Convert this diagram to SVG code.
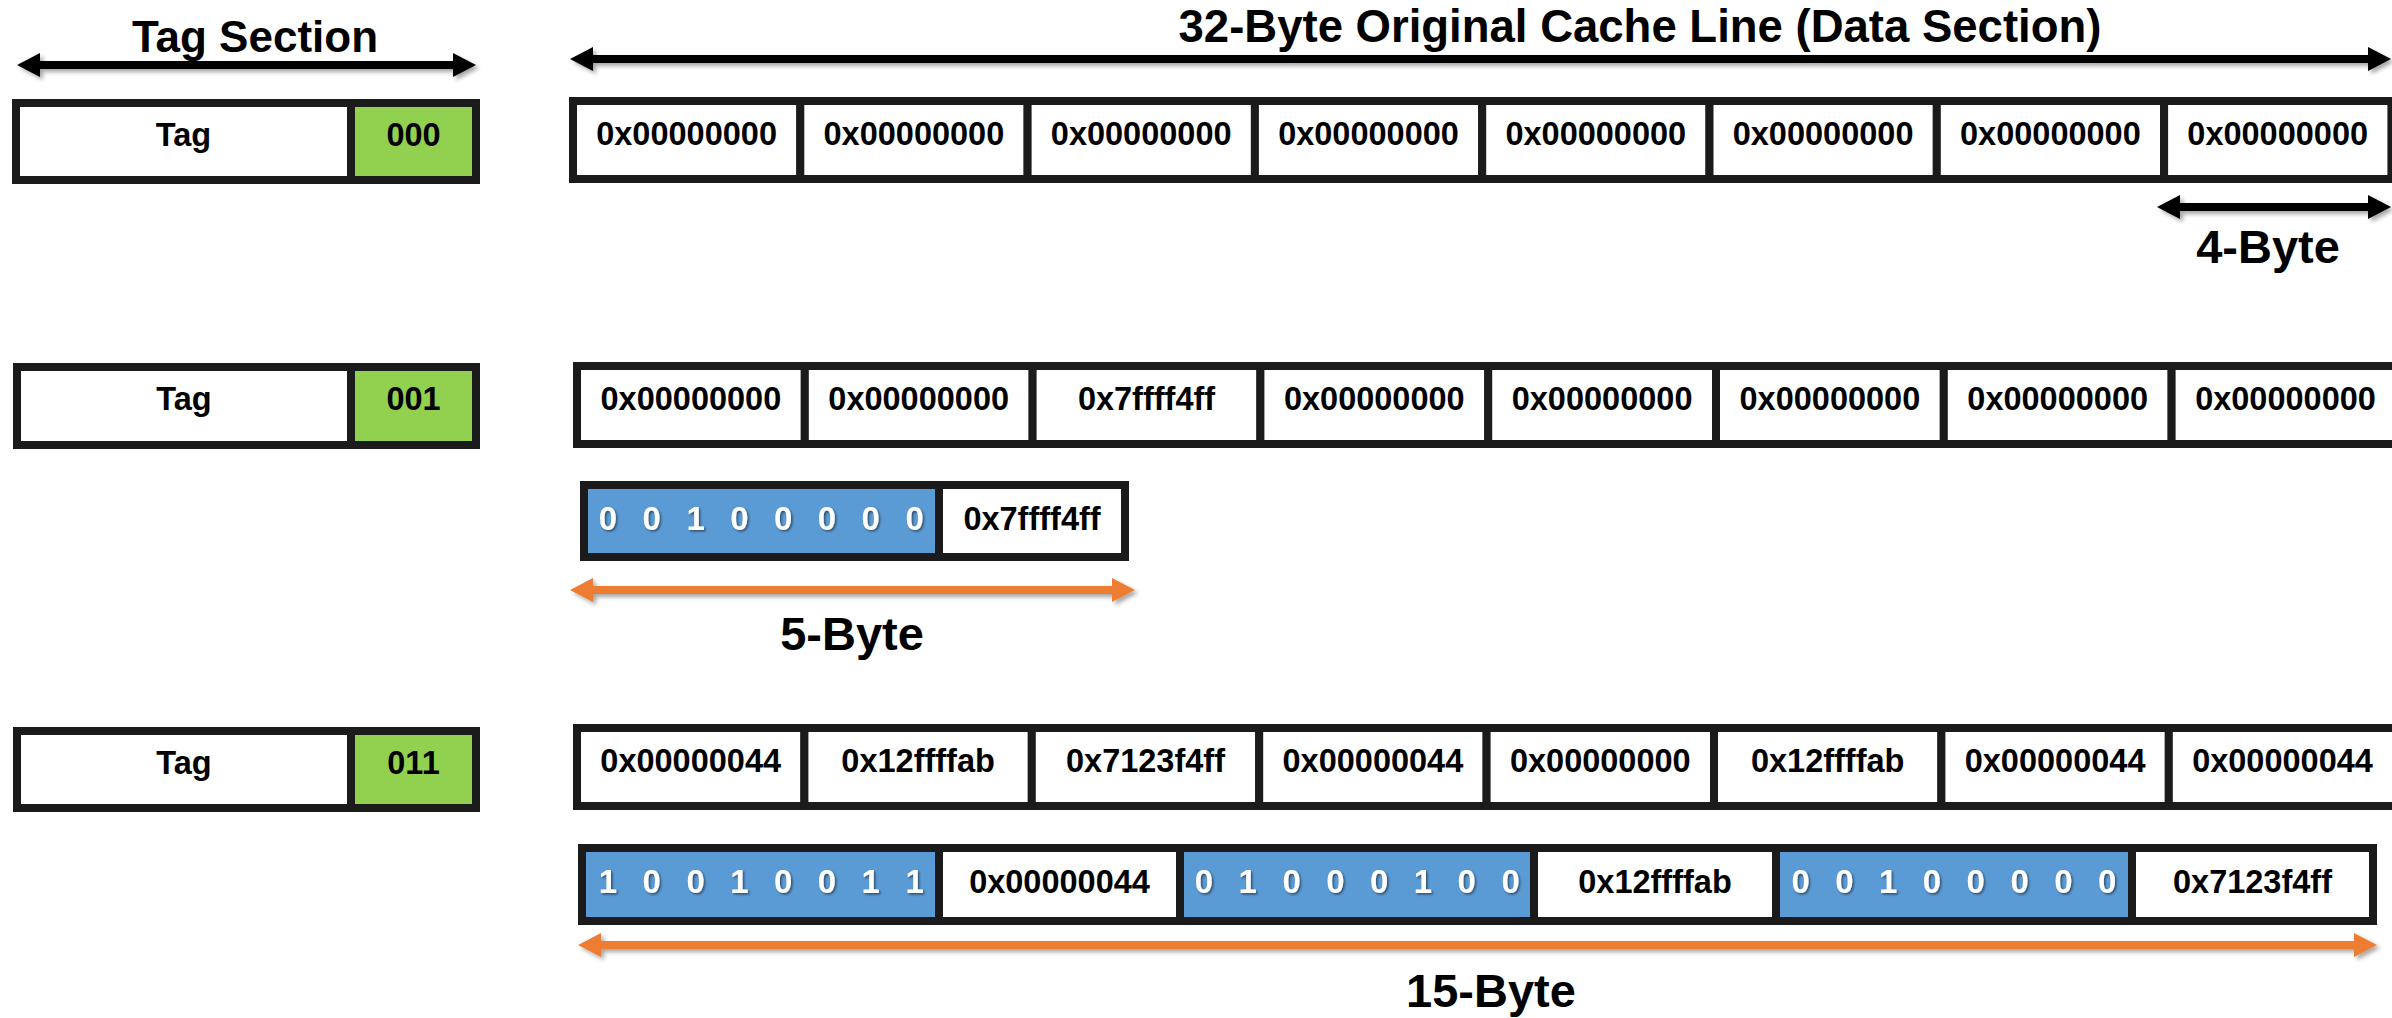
<svg xmlns="http://www.w3.org/2000/svg" width="2392" height="1018" viewBox="0 0 2392 1018">
<defs>
<style>
.box{stroke:#1b1b1b;stroke-width:8;}
.w{fill:#ffffff;}
.g{fill:#92D050;}
.b{fill:#5B9BD5;}
.t{font-family:"Liberation Sans",Arial,sans-serif;font-weight:bold;font-size:32.5px;fill:#000;text-anchor:middle;}
.bin{font-family:"Liberation Sans",Arial,sans-serif;font-weight:bold;font-size:33px;fill:#ffffff;text-anchor:middle;filter:url(#ts);}
.lbl{font-family:"Liberation Sans",Arial,sans-serif;font-weight:bold;font-size:47px;fill:#000;text-anchor:middle;}
.ab{stroke:#000;stroke-width:8;fill:none;filter:url(#ds);}
.ao{stroke:#ED7D31;stroke-width:8;fill:none;filter:url(#ds);}
</style>
<filter id="ds" filterUnits="userSpaceOnUse" x="0" y="0" width="2392" height="1018">
<feDropShadow dx="3" dy="3" stdDeviation="2" flood-color="#000" flood-opacity="0.35"/>
</filter>
<filter id="ts" x="-50%" y="-50%" width="200%" height="200%">
<feDropShadow dx="1.5" dy="1.5" stdDeviation="1" flood-color="#000" flood-opacity="0.5"/>
</filter>
<marker id="hb" markerUnits="userSpaceOnUse" markerWidth="26" markerHeight="26" viewBox="0 0 26 26" refX="3" refY="13" orient="auto-start-reverse">
<path d="M0,1 L23,13 L0,25 Z" fill="#000"/>
</marker>
<marker id="ho" markerUnits="userSpaceOnUse" markerWidth="26" markerHeight="26" viewBox="0 0 26 26" refX="3" refY="13" orient="auto-start-reverse">
<path d="M0,1 L23,13 L0,25 Z" fill="#ED7D31"/>
</marker>
</defs>
<rect width="2392" height="1018" fill="#ffffff"/>

<g id="labels">
<text class="lbl" x="255" y="52" style="font-size:44px">Tag Section</text>
<text class="lbl" x="1640" y="42" style="font-size:45.5px">32-Byte Original Cache Line (Data Section)</text>
<text class="lbl" x="2268" y="263">4-Byte</text>
<text class="lbl" x="852" y="650">5-Byte</text>
<text class="lbl" x="1491" y="1007">15-Byte</text>
</g>

<g id="connectors">
<line class="ab" x1="37" y1="65" x2="456" y2="65" marker-start="url(#hb)" marker-end="url(#hb)"/>
<line class="ab" x1="590" y1="59" x2="2371" y2="59" marker-start="url(#hb)" marker-end="url(#hb)"/>
<line class="ab" x1="2177" y1="207" x2="2371" y2="207" marker-start="url(#hb)" marker-end="url(#hb)"/>
<line class="ao" x1="590" y1="590" x2="1115" y2="590" marker-start="url(#ho)" marker-end="url(#ho)"/>
<line class="ao" x1="598" y1="945" x2="2357" y2="945" marker-start="url(#ho)" marker-end="url(#ho)"/>
</g>

<g id="tag-row1">
<rect class="box w" x="16" y="103" width="460" height="77"/>
<rect class="box g" x="351" y="103" width="125" height="77"/>
<text class="t" x="183.5" y="146">Tag</text>
<text class="t" x="413.5" y="146">000</text>
</g>
<g id="tag-row2">
<rect class="box w" x="17" y="367" width="459" height="78"/>
<rect class="box g" x="351" y="367" width="125" height="78"/>
<text class="t" x="184" y="410">Tag</text>
<text class="t" x="413.5" y="410">001</text>
</g>
<g id="tag-row3">
<rect class="box w" x="17" y="731" width="459" height="77"/>
<rect class="box g" x="351" y="731" width="125" height="77"/>
<text class="t" x="184" y="774">Tag</text>
<text class="t" x="413.5" y="774">011</text>
</g>

<g id="data-row1">
<rect class="box w" x="573" y="101" width="227.3" height="78"/>
<rect class="box w" x="800.3" y="101" width="227.3" height="78"/>
<rect class="box w" x="1027.6" y="101" width="227.3" height="78"/>
<rect class="box w" x="1254.9" y="101" width="227.3" height="78"/>
<rect class="box w" x="1482.2" y="101" width="227.3" height="78"/>
<rect class="box w" x="1709.5" y="101" width="227.3" height="78"/>
<rect class="box w" x="1936.8" y="101" width="227.3" height="78"/>
<rect class="box w" x="2164.1" y="101" width="227.3" height="78"/>
<text class="t" x="686.6" y="145">0x00000000</text>
<text class="t" x="913.9" y="145">0x00000000</text>
<text class="t" x="1141.2" y="145">0x00000000</text>
<text class="t" x="1368.5" y="145">0x00000000</text>
<text class="t" x="1595.8" y="145">0x00000000</text>
<text class="t" x="1823.1" y="145">0x00000000</text>
<text class="t" x="2050.4" y="145">0x00000000</text>
<text class="t" x="2277.7" y="145">0x00000000</text>
</g>

<g id="data-row2">
<rect class="box w" x="577" y="366" width="227.8" height="78"/>
<rect class="box w" x="804.8" y="366" width="227.8" height="78"/>
<rect class="box w" x="1032.6" y="366" width="227.8" height="78"/>
<rect class="box w" x="1260.4" y="366" width="227.8" height="78"/>
<rect class="box w" x="1488.2" y="366" width="227.8" height="78"/>
<rect class="box w" x="1716" y="366" width="227.8" height="78"/>
<rect class="box w" x="1943.8" y="366" width="227.8" height="78"/>
<rect class="box w" x="2171.6" y="366" width="227.8" height="78"/>
<text class="t" x="690.9" y="410">0x00000000</text>
<text class="t" x="918.7" y="410">0x00000000</text>
<text class="t" x="1146.5" y="410">0x7ffff4ff</text>
<text class="t" x="1374.3" y="410">0x00000000</text>
<text class="t" x="1602.1" y="410">0x00000000</text>
<text class="t" x="1829.9" y="410">0x00000000</text>
<text class="t" x="2057.7" y="410">0x00000000</text>
<text class="t" x="2285.5" y="410">0x00000000</text>
</g>

<g id="compressed-row2">
<rect class="box b" x="584" y="485" width="355" height="72"/>
<rect class="box w" x="939" y="485" width="186" height="72"/>
<text class="bin" x="608 629.9 651.8 673.7 695.6 717.5 739.4 761.3 783.2 805.1 827 848.9 870.8 892.7 914.6" y="530">0 0 1 0 0 0 0 0</text>
<text class="t" x="1032" y="530">0x7ffff4ff</text>
</g>

<g id="data-row3">
<rect class="box w" x="577" y="728" width="227.4" height="78"/>
<rect class="box w" x="804.4" y="728" width="227.4" height="78"/>
<rect class="box w" x="1031.8" y="728" width="227.4" height="78"/>
<rect class="box w" x="1259.2" y="728" width="227.4" height="78"/>
<rect class="box w" x="1486.6" y="728" width="227.4" height="78"/>
<rect class="box w" x="1714" y="728" width="227.4" height="78"/>
<rect class="box w" x="1941.4" y="728" width="227.4" height="78"/>
<rect class="box w" x="2168.8" y="728" width="227.4" height="78"/>
<text class="t" x="690.7" y="772">0x00000044</text>
<text class="t" x="918.1" y="772">0x12ffffab</text>
<text class="t" x="1145.5" y="772">0x7123f4ff</text>
<text class="t" x="1372.9" y="772">0x00000044</text>
<text class="t" x="1600.3" y="772">0x00000000</text>
<text class="t" x="1827.7" y="772">0x12ffffab</text>
<text class="t" x="2055.1" y="772">0x00000044</text>
<text class="t" x="2282.5" y="772">0x00000044</text>
</g>

<g id="compressed-row3">
<rect class="box b" x="582" y="848" width="357" height="73"/>
<rect class="box w" x="939" y="848" width="241" height="73"/>
<rect class="box b" x="1180" y="848" width="354" height="73"/>
<rect class="box w" x="1534" y="848" width="242" height="73"/>
<rect class="box b" x="1776" y="848" width="356" height="73"/>
<rect class="box w" x="2132" y="848" width="241" height="73"/>
<text class="bin" x="608 629.9 651.8 673.7 695.6 717.5 739.4 761.3 783.2 805.1 827 848.9 870.8 892.7 914.6" y="893">1 0 0 1 0 0 1 1</text>
<text class="t" x="1059.5" y="893">0x00000044</text>
<text class="bin" x="1204 1225.9 1247.8 1269.7 1291.6 1313.5 1335.4 1357.3 1379.2 1401.1 1423 1444.9 1466.8 1488.7 1510.6" y="893">0 1 0 0 0 1 0 0</text>
<text class="t" x="1655" y="893">0x12ffffab</text>
<text class="bin" x="1800.6 1822.5 1844.4 1866.3 1888.2 1910.1 1932 1953.9 1975.8 1997.7 2019.6 2041.5 2063.4 2085.3 2107.2" y="893">0 0 1 0 0 0 0 0</text>
<text class="t" x="2252.5" y="893">0x7123f4ff</text>
</g>
</svg>
